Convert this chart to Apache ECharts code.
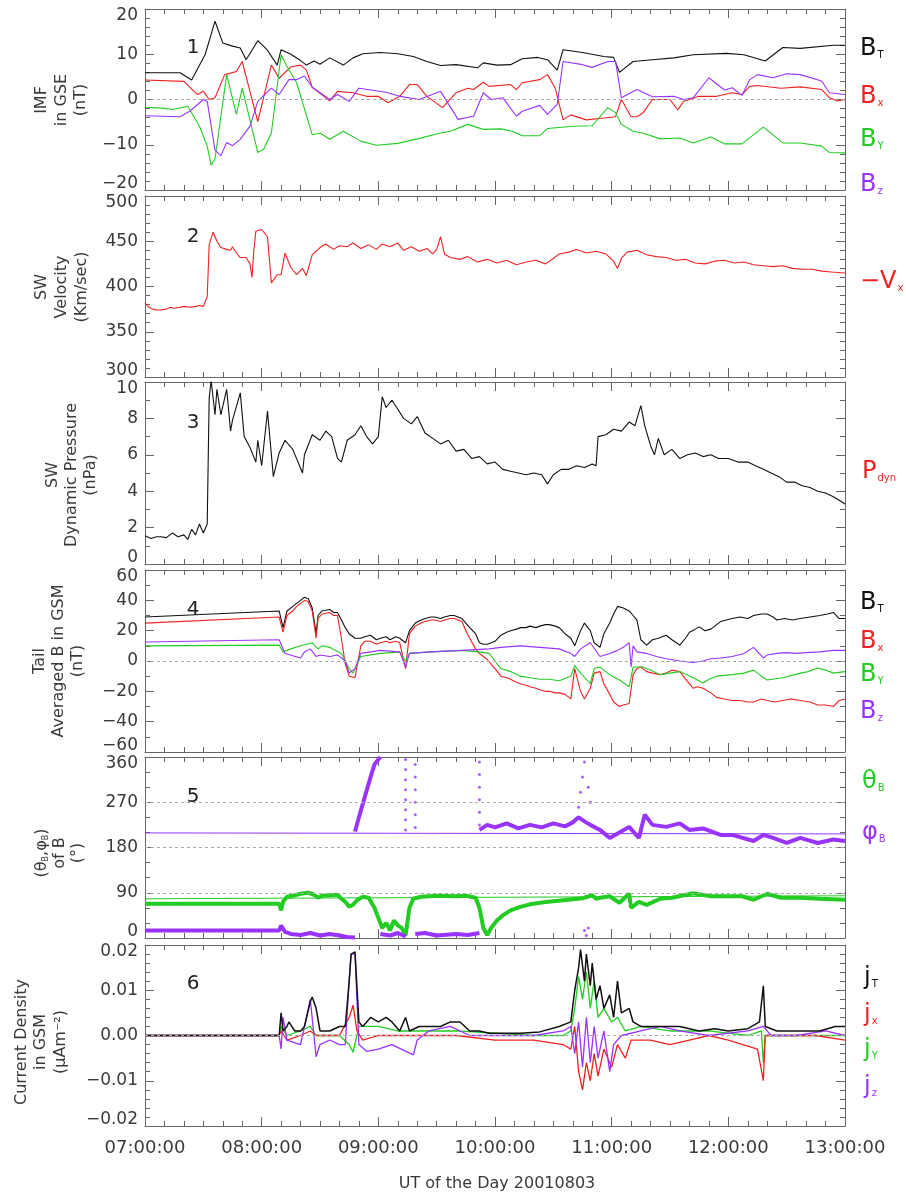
<!DOCTYPE html>
<html><head><meta charset="utf-8">
<script src="https://cdn.jsdelivr.net/npm/echarts@6/dist/echarts.min.js"></script>
<style>html,body{margin:0;padding:0;background:#fff}#c{width:906px;height:1201px}</style>
</head><body><div id="c"></div>
<script>
// ---------- tick labels ----------
const xTickLabels = ['07:00:00','08:00:00','09:00:00','10:00:00','11:00:00','12:00:00','13:00:00'];
// time = minutes after 07:00 UT

// ---------- Panel 1 : IMF in GSE (nT) ----------
const imfBT = [[0,5.9],[18,5.9],[24,4.3],[31,10],[36,17.3],[40,12.5],[45,11.8],[49,11.4],[52,8.8],[58,13],[63,10.9],[68,7.6],[70,11],[75,10],[80,8.6],[83,7.6],[87,8.5],[90,7.8],[95,9.2],[102,7.6],[107,9.2],[112,10.1],[121,10.4],[130,10.1],[138,9.5],[145,8.4],[152,7.5],[160,7.7],[171,7.0],[174,8.1],[181,7.6],[188,7.7],[194,9],[202,9.3],[207,8.8],[212,6.5],[215,11],[225,10.4],[236,9.5],[241,9.3],[244,6.0],[251,8.4],[261,8.8],[272,9.2],[282,9.9],[299,10.2],[308,9.9],[319,8.5],[328,11.5],[337,11.3],[354,12],[360,12]];
const imfBx = [[0,4.3],[20,4.0],[27,1.1],[30,1.8],[33,0],[36,0.4],[41,5.5],[47,6.2],[50,8.4],[58,-4.9],[65,7.6],[69,4.7],[75,7.2],[80,7.6],[83,6.5],[86,2.7],[95,-0.3],[99,1.8],[107,1.5],[114,0.7],[120,0.7],[125,-0.7],[131,0.7],[136,3.3],[140,3.3],[145,0.7],[153,-1.8],[160,1.5],[166,2.5],[169,2.2],[174,3.8],[177,2.9],[188,3.3],[191,2.2],[194,3.7],[203,4.4],[207,5.5],[211,2.5],[215,-4.5],[219,-3.4],[227,-4.5],[236,-4.1],[242,-3.8],[245,0],[250,-3.8],[253,-3.8],[256,-3],[261,0],[270,0],[274,-2.3],[277,-0.4],[285,0.7],[294,0.7],[302,1.5],[307,1.1],[311,2.9],[315,3.1],[327,2.5],[337,2.8],[348,2.2],[352,0.4],[356,-0.3],[360,0]];
const imfBy = [[0,-1.7],[9,-1.9],[14,-2.2],[22,-1.5],[28,-5.9],[32,-10.3],[34,-14.5],[36,-13.1],[42,5.5],[47,-3.3],[50,2.5],[58,-11.7],[61,-11.0],[65,-7.4],[70,9.9],[73,7.3],[78,3.7],[86,-7.8],[90,-7.4],[95,-8.8],[102,-7.0],[111,-9.2],[119,-10.1],[130,-9.7],[140,-8.7],[152,-7.4],[157,-7.0],[166,-5.5],[174,-6.6],[183,-6.5],[189,-7.0],[194,-8.0],[203,-8.0],[207,-6.4],[220,-5.9],[230,-5.8],[238,-1.8],[242,-2.9],[245,-5.5],[251,-7.0],[256,-7.4],[265,-8.7],[275,-8.5],[282,-9.6],[291,-8.3],[298,-9.8],[307,-9.8],[318,-6.1],[328,-9.6],[337,-9.6],[348,-10.3],[352,-11.7],[360,-11.8]];
const imfBz = [[0,-3.6],[18,-3.8],[23,-2.6],[30,0],[32,-0.4],[36,-11.2],[39,-12.4],[42,-9.5],[45,-10.2],[49,-8.8],[54,-5.9],[58,-0.4],[65,2.5],[69,1.1],[74,4.4],[78,4.4],[82,5.2],[86,2.7],[95,0],[99,1.1],[105,-0.4],[110,2.5],[124,1.6],[131,0.7],[141,0],[152,1.8],[161,-4.4],[169,-3.7],[174,1.5],[178,0],[184,0.4],[191,-3.7],[194,-2.6],[203,-1.3],[207,-3.3],[212,-1.1],[215,8.4],[225,7.7],[230,7.1],[238,8.4],[242,8.4],[245,0.4],[253,2.2],[261,0.6],[272,0.7],[277,0],[282,0.4],[290,4.8],[298,2.1],[302,2.6],[307,0.9],[311,4.4],[315,5.5],[323,4.8],[330,5.7],[337,5.5],[348,4.1],[352,1.5],[360,1.1]];

// ---------- Panel 2 : SW velocity -Vx (km/s) ----------
const swVel = [[0,382],[2,377],[4,375],[6,374],[8,374],[11,375],[13,377],[15,376],[18,377],[20,378],[23,377],[26,378],[28,379],[30,378],[31,377],[32,389],[33,446],[35,460],[37,450],[39,443],[42,441],[44,440],[45,444],[47,437],[49,432],[52,432],[54,425],[55,410],[56,440],[57,461],[60,463],[61,465],[63,455],[65,404],[68,413],[70,413],[72,437],[75,421],[78,413],[81,420],[83,412],[86,435],[90,443],[93,447],[97,441],[100,445],[104,444],[107,448],[111,442],[115,446],[119,441],[122,447],[126,444],[130,448],[133,440],[137,444],[141,439],[145,442],[148,436],[150,441],[152,455],[154,436],[157,432],[162,430],[166,433],[171,427],[176,430],[181,426],[186,429],[191,424],[196,427],[201,429],[206,425],[210,431],[213,436],[218,438],[222,441],[227,437],[232,439],[237,436],[241,428],[243,420],[245,431],[248,438],[253,440],[258,435],[263,433],[268,432],[273,429],[278,430],[283,426],[288,425],[293,428],[298,429],[303,426],[308,427],[313,424],[318,423],[323,422],[328,423],[333,420],[338,419],[343,419],[348,417],[353,416],[360,415]];

// ---------- Panel 3 : SW dynamic pressure (nPa) ----------
const swPdyn = [[0,1.55],[3,1.4],[6,1.5],[8,1.5],[11,1.45],[14,1.7],[17,1.5],[20,1.6],[22,1.35],[24,1.9],[26,1.6],[28,2.2],[30,1.7],[32,2.2],[33,9.1],[34,10.1],[36,8.2],[37,9.6],[39,8.2],[42,9.6],[44,7.3],[45,7.9],[49,9.4],[51,7.0],[54,6.4],[57,5.6],[58,6.8],[60,5.4],[63,8.4],[66,4.8],[69,6.1],[72,6.8],[76,6.3],[81,5.0],[82,6.0],[86,7.1],[90,6.8],[93,7.3],[96,7.0],[99,5.8],[101,5.6],[104,6.8],[108,7.1],[111,7.6],[114,7.0],[117,6.6],[120,7.0],[122,9.2],[124,8.6],[127,9.0],[130,8.5],[133,8.0],[137,7.7],[140,8.1],[144,7.2],[148,6.9],[152,6.6],[156,6.8],[160,6.2],[164,6.3],[168,5.8],[172,5.9],[176,5.5],[180,5.6],[184,5.2],[188,5.1],[192,5.0],[196,4.9],[200,5.0],[204,4.9],[207,4.4],[210,4.9],[214,5.2],[218,5.2],[222,5.4],[226,5.3],[230,5.5],[232,5.4],[233,7.0],[237,7.1],[241,7.4],[245,7.3],[249,7.8],[252,7.6],[255,8.7],[257,7.6],[260,6.5],[262,6.0],[264,6.9],[267,6.0],[271,6.3],[275,5.8],[279,6.0],[283,6.1],[287,5.9],[291,6.0],[295,5.8],[300,5.8],[305,5.6],[310,5.6],[314,5.4],[318,5.2],[322,5.0],[326,4.8],[330,4.5],[334,4.5],[338,4.3],[342,4.2],[346,4.0],[350,3.9],[354,3.7],[357,3.5],[360,3.3]];

// ---------- Panel 4 : tail averaged B in GSM (nT) ----------
const tailBT = [[0,29],[69,33],[71,22],[73,33],[76,36],[78,38],[80,40],[82,42],[84,41],[86,35],[88,18],[89,30],[91,33],[95,34],[97,32],[99,32],[101,27],[103,22],[105,18],[108,15],[111,15],[113,16],[116,17],[119,14],[121,15],[124,16],[126,14],[129,16],[131,15],[134,12],[136,20],[139,25],[142,27],[144,28],[147,29],[149,29],[152,28],[154,29],[157,30],[159,30],[161,29],[163,28],[165,25],[167,22],[170,18],[172,12],[174,11],[176,11],[177,10],[180,13],[183,17],[186,19],[188,20],[191,21],[193,22],[196,22],[198,23],[201,22],[203,23],[206,24],[208,24],[211,23],[213,22],[216,18],[219,15],[221,10],[224,20],[226,25],[229,20],[231,12],[234,9],[236,18],[239,25],[241,31],[243,36],[246,35],[249,33],[251,30],[253,27],[255,14],[258,10.5],[261,14],[264,15],[268,17],[271,14],[275,10.5],[278,15],[280,19],[283,21],[285,22.5],[288,20],[291,21],[294,24],[296,26],[299,27],[302,28],[306,29],[310,28],[313,30],[317,31],[320,31],[323,29],[325,27],[329,28],[333,27],[337,28],[342,29],[347,30],[351,31],[354,32],[357,28],[360,28]];
const tailBx = [[0,25],[69,29],[71,19],[73,30],[76,33],[78,36],[80,38],[82,40],[84,39],[86,33],[88,15],[89,28],[91,31],[95,32],[97,30],[99,30],[101,15],[103,-2],[105,-10],[108,-11],[111,10],[113,13],[116,13],[119,11],[121,12],[124,13],[126,12],[129,13],[131,12],[134,-5],[136,18],[139,23],[142,25],[144,26],[147,27],[149,27],[152,26],[154,27],[157,28],[159,28],[161,27],[163,26],[165,20],[167,15],[170,8],[172,5],[174,3],[176,1],[178,-2],[180,-5],[183,-10],[186,-11],[188,-12],[191,-14],[193,-15],[196,-16],[198,-17],[201,-18],[203,-19],[206,-20],[208,-20],[211,-21],[213,-21],[216,-22],[219,-25],[221,-5],[224,-20],[226,-25],[229,-18],[231,-8],[234,-7],[236,-15],[239,-22],[241,-27],[244,-30],[246,-29],[249,-28],[251,-9],[253,-5],[255,-4],[258,-7],[261,-8],[265,-9],[268,-8],[271,-6],[275,-7],[278,-12],[282,-18],[284,-17],[287,-18],[291,-21],[294,-24],[298,-25],[302,-26],[306,-26],[310,-27],[313,-27],[317,-25],[320,-26],[324,-27],[328,-26],[332,-25],[337,-26],[342,-27],[346,-29],[350,-29],[354,-30],[357,-26],[360,-25]];
const tailBy = [[0,10],[69,10.5],[71,6],[75,8],[80,10],[86,12],[89,8],[91,10],[95,9],[101,5],[105,-5],[107,-8],[111,3],[121,5],[131,6],[134,0],[136,5],[147,6],[163,7],[172,6],[177,5],[180,0],[183,-5],[188,-7],[193,-10],[198,-11],[203,-12],[208,-12],[213,-13],[219,-10],[221,-3],[224,-8],[229,-15],[231,-5],[234,-4],[239,-9],[244,-12.5],[249,-17],[251,-4],[256,-4],[260,-6],[265,-9],[270,-8],[275,-7],[282,-11],[287,-14.5],[290,-12],[294,-10],[302,-9],[308,-8],[313,-6],[317,-10],[320,-12.5],[328,-11],[337,-8],[341,-7],[346,-4.6],[350,-6],[354,-8],[360,-7]];
const tailBz = [[0,12.5],[69,14],[72,5],[80,2],[82,6],[85,8],[88,3],[90,4],[95,3],[99,4],[103,0],[105,-8],[108,-5],[111,5],[121,7],[131,6],[134,-4],[136,5],[147,6],[163,7],[177,8],[183,9],[193,10],[203,9],[213,8],[219,5],[221,3],[224,8],[229,12],[234,3],[239,5],[243,7],[246,9],[249,12],[250,-4],[251,10],[253,6],[258,5],[263,3],[268,1.5],[275,0],[282,-1],[287,0],[291,1.5],[296,2],[302,3],[308,5],[313,9],[318,2],[320,4],[325,5],[330,5.5],[335,5],[340,5.5],[347,6],[354,7],[360,7]];

// ---------- Panel 5 : (thetaB, phiB) of B (deg) ----------
const thetaB = [[0,68],[69,68],[70,55],[71,72],[73,82],[76,84],[80,88],[84,90],[87,86],[89,80],[91,84],[95,85],[99,86],[101,78],[103,72],[105,62],[107,66],[109,75],[112,82],[115,80],[118,60],[120,40],[122,20],[124,30],[126,15],[128,35],[130,25],[132,20],[134,5],[136,60],[138,78],[142,82],[150,84],[160,83],[165,84],[170,80],[172,60],[174,20],[176,6],[178,20],[181,35],[184,45],[188,55],[193,62],[198,67],[205,71],[215,75],[225,79],[230,85],[232,78],[234,80],[239,83],[244,70],[249,88],[250,60],[254,72],[258,66],[265,78],[271,80],[282,89],[291,83],[299,83],[307,83],[313,76],[320,88],[327,80],[337,80],[347,78],[360,76]];
const thetaRef = [[0,78],[360,84]];
const phiB = [[0,15],[69,15],[70,25],[72,12],[75,8],[80,6],[85,10],[90,5],[95,8],[100,5],[104,2],[108,1],null,[108,212],[110,240],[113,280],[116,320],[118,345],[121,360],null,[121,8],[126,5],[130,10],[134,3],null,[139,8],[144,10],[150,5],[160,8],[166,6],[172,10],null,[172,215],[176,225],[180,220],[186,228],[192,218],[198,225],[204,220],[210,228],[216,222],[220,230],[223,240],[226,232],[229,225],[234,215],[239,199],[244,210],[249,221],[254,199],[257,245],[261,225],[268,221],[275,228],[280,215],[287,218],[296,205],[302,205],[313,193],[318,205],[323,199],[330,189],[337,199],[346,189],[354,196],[360,193]];
const phiRef = [[0,209],[360,207]];
const phiDots = [[134,215],[134,235],[134,255],[134,275],[134,295],[134,315],[134,335],[134,355],[139,220],[139,245],[139,270],[139,295],[139,320],[139,345],[172,225],[172,250],[172,275],[172,300],[172,325],[172,350],[223,260],[224,290],[225,320],[226,350],[228,300],[229,270],[226,15],[227,5],[228,20]];

// ---------- Panel 6 : current density in GSM (uA m^-2) ----------
const jT = [[0,0],[69,0],[70,0.005],[71,0.001],[73,0.002],[74,0.003],[77,0.001],[80,0.001],[82,0.002],[85,0.0075],[86,0.0085],[88,0.006],[90,0.001],[95,0.001],[100,0.002],[103,0.002],[105,0.012],[106,0.018],[108,0.0185],[110,0.003],[112,0.002],[116,0.004],[120,0.003],[124,0.004],[127,0.003],[131,0.001],[134,0.004],[136,0.001],[141,0.002],[146,0.002],[152,0.002],[157,0.003],[162,0.003],[167,0.001],[172,0.001],[177,0.0005],[183,0.0005],[193,0.0005],[203,0.0008],[213,0.002],[219,0.003],[221,0.01],[223,0.015],[224,0.019],[226,0.012],[227,0.018],[229,0.011],[230,0.016],[232,0.008],[234,0.011],[236,0.006],[239,0.009],[241,0.004],[243,0.012],[245,0.005],[249,0.006],[251,0.003],[255,0.002],[265,0.002],[275,0.002],[285,0.001],[293,0.0015],[300,0.001],[310,0.0015],[316,0.003],[318,0.011],[319,0.002],[325,0.001],[337,0.001],[347,0.001],[355,0.002],[360,0.002]];
const jx = [[0,0],[69,0],[70,0.001],[73,-0.001],[80,0],[85,0.001],[88,0],[100,0],[105,0.004],[107,0.0067],[109,0.001],[112,-0.001],[120,0],[130,0],[140,0],[160,0],[180,-0.001],[200,-0.001],[215,-0.002],[219,-0.003],[221,0.002],[223,-0.008],[225,-0.012],[227,-0.006],[229,-0.010],[231,-0.004],[233,-0.009],[236,-0.003],[240,-0.007],[243,-0.002],[247,-0.005],[250,-0.001],[260,-0.001],[270,-0.002],[280,-0.001],[290,0],[300,-0.001],[315,-0.003],[318,-0.010],[319,0],[330,0],[345,0],[360,-0.001]];
const jy = [[0,0],[69,0],[70,0.002],[73,0],[80,0.001],[85,0.002],[88,0],[100,0],[105,-0.002],[107,-0.0037],[110,0.002],[120,0.002],[130,0.001],[140,0.001],[160,0.001],[200,0],[215,0],[219,0.001],[221,0.006],[223,0.013],[225,0.008],[227,0.014],[229,0.006],[231,0.012],[233,0.004],[236,0.006],[240,0.003],[243,0.004],[247,0.001],[255,0.002],[270,0.001],[290,0.001],[310,0],[317,0.001],[318,-0.006],[319,0],[330,0],[345,0],[360,0]];
const jz = [[0,0],[69,0],[70,-0.003],[71,0.004],[73,-0.001],[80,-0.002],[85,0.008],[86,0.008],[88,-0.0047],[90,-0.002],[95,-0.001],[100,-0.002],[103,-0.002],[105,0.012],[106,0.018],[108,0.018],[110,-0.002],[114,-0.0035],[120,-0.003],[127,-0.002],[138,-0.0043],[140,-0.001],[146,0.001],[157,0.002],[167,0],[180,0],[200,0],[215,0.001],[219,0.002],[221,-0.004],[223,0.003],[225,-0.007],[227,0.004],[229,-0.006],[231,0.002],[233,-0.005],[236,0.001],[239,-0.008],[241,-0.002],[245,0],[255,0.001],[265,0.002],[275,0.001],[290,0],[310,0.001],[318,0.002],[322,0],[335,0],[350,0.001],[360,0]];

// ---------- colours ----------
const C = {k:'#111111', r:'#ee2222', g:'#22cc22', p:'#9933ff'};
const FONT = 'DejaVu Sans, Verdana, sans-serif';
const TXT = '#3a3a3a';
const AX = '#666666';

const minus = s => s.replace('-','\u2212');
const grids = [
  {top:9,  height:181, min:-20, max:20, interval:10, minor:5, zero:[0], fmt:v=>minus(String(v))},
  {top:196,height:181, min:300, max:500, interval:50, minor:5, zero:[], fmt:v=>String(v)},
  {top:382,height:182, min:0, max:10, interval:2, minor:2, zero:[], fmt:v=>String(v)},
  {top:570,height:182, min:-60, max:60, interval:20, minor:2, zero:[0], fmt:v=>minus(String(v))},
  {top:757,height:181, min:0, max:360, interval:90, minor:3, zero:[90,180,270], fmt:v=>String(v)},
  {top:945,height:181, min:-0.02, max:0.02, interval:0.01, minor:5, zero:[0], fmt:v=>minus(v.toFixed(2))}
];
const LBL = {fontSize:17, fontFamily:FONT, color:TXT};

const option = {backgroundColor:'#fff', animation:false, grid:[], xAxis:[], yAxis:[], series:[], graphic:[]};
grids.forEach((g,i)=>{
  option.grid.push({left:145, width:700, top:g.top, height:g.height});
  const last = i===5;
  ['bottom','top'].forEach(pos=>{
    option.xAxis.push({type:'value', gridIndex:i, position:pos, min:0, max:360, interval:60,
      axisLine:{show:true, onZero:false, lineStyle:{color:AX, width:1}},
      axisTick:{show:true, inside:true, length:9, lineStyle:{color:AX}},
      minorTick:{show:true, splitNumber:6, length:5, lineStyle:{color:AX}},
      splitLine:{show:false},
      axisLabel:{show: last && pos==='bottom', margin:13, color:TXT, fontSize:18, fontFamily:FONT,
        formatter:v=>xTickLabels[Math.round(v/60)]}
    });
  });
  ['left','right'].forEach(pos=>{
    option.yAxis.push({type:'value', gridIndex:i, position:pos, min:g.min, max:g.max, interval:g.interval,
      axisLine:{show:true, onZero:false, lineStyle:{color:AX, width:1}},
      axisTick:{show:true, inside:true, length:9, lineStyle:{color:AX}},
      minorTick:{show:true, splitNumber:g.minor, length:5, lineStyle:{color:AX}},
      splitLine:{show:false},
      axisLabel:{show: pos==='left', margin:7, color:TXT, fontSize:17, fontFamily:FONT,
        formatter:v=>{
          const s = g.fmt(v);
          if (Math.abs(v-g.max) < 1e-9) return '{t|'+s+'}';
          if (Math.abs(v-g.min) < 1e-9) return '{b|'+s+'}';
          return s;
        },
        rich:{t:Object.assign({padding:[14,0,0,0]},LBL), b:Object.assign({padding:[0,0,12,0]},LBL)}}
    });
  });
  option.series.push({type:'line', xAxisIndex:2*i, yAxisIndex:2*i, data:[], silent:true,
    markLine:{silent:true, symbol:'none', label:{show:false}, animation:false,
      lineStyle:{color:'#aaaaaa', type:[3,3], width:1},
      data:g.zero.map(z=>({yAxis:z}))}});
});

function line(gi, data, color, w, extra){
  option.series.push(Object.assign({type:'line', xAxisIndex:2*gi, yAxisIndex:2*gi, data:data,
    symbol:'none', showSymbol:false, connectNulls:false, silent:true,
    lineStyle:{color:color, width:w||1.1}, itemStyle:{color:color}, z:3}, extra||{}));
}
line(0, imfBT, C.k); line(0, imfBx, C.r); line(0, imfBy, C.g); line(0, imfBz, C.p);
line(1, swVel, C.r);
line(2, swPdyn, C.k);
line(3, tailBT, C.k); line(3, tailBx, C.r); line(3, tailBy, C.g); line(3, tailBz, C.p);
line(4, thetaRef, C.g, 1); line(4, phiRef, C.p, 1);
line(4, thetaB, C.g, 4); line(4, phiB, C.p, 4);
option.series.push({type:'scatter', xAxisIndex:8, yAxisIndex:8, data:phiDots, symbolSize:3, itemStyle:{color:C.p}, silent:true});
line(5, jy, C.g, 1.3); line(5, jx, C.r, 1.3); line(5, jz, C.p, 1.3); line(5, jT, C.k, 1.5);

// ---------- text ----------
function vtext(x, y, t, fs, rich){
  option.graphic.push({type:'text', x:x, y:y, rotation:Math.PI/2,
    style:{text:t, fill:TXT, fontSize:fs, fontFamily:FONT, align:'center', verticalAlign:'middle', textAlign:'center', textVerticalAlign:'middle', rich:rich}});
}
function htext(x, y, t, fs, color, align){
  option.graphic.push({type:'text', x:x, y:y,
    style:{text:t, fill:color||TXT, fontSize:fs, fontFamily:FONT, align:align||'center', verticalAlign:'middle', textAlign:align||'center', textVerticalAlign:'middle'}});
}
const FS = 16;
vtext(42,100,'IMF',FS); vtext(62,100,'in GSE',FS); vtext(81,100,'(nT)',FS);
vtext(42,287,'SW',FS); vtext(62,287,'Velocity',FS); vtext(82,287,'(Km/sec)',FS);
vtext(53,475,'SW',FS); vtext(72,475,'Dynamic Pressure',FS); vtext(91,475,'(nPa)',FS);
vtext(40,661,'Tail',FS); vtext(59,661,'Averaged B in GSM',FS); vtext(78,661,'(nT)',FS);
const subR = {n:{fontSize:FS, fontFamily:FONT, fill:TXT}, s:{fontSize:8, fontFamily:FONT, fill:TXT, verticalAlign:'bottom'}};
vtext(42,853,'{n|(\u03b8}{s|B}{n|,\u03c6}{s|B}{n|)}',FS,subR); vtext(60,853,'of B',FS); vtext(78,853,'(\u00b0)',FS);
vtext(22,1042,'Current Density',FS); vtext(41,1042,'in GSM',FS); vtext(61,1042,'(\u03bcAm\u207b\u00b2)',FS);

['1','2','3','4','5','6'].forEach((n,i)=>htext(193,[48,237,423,610,797,984][i],n,20,'#222'));

function lab(x,y,main,sub,color,fsMain,fsSub){
  option.graphic.push({type:'text', x:x, y:y, style:{text:'{m|'+main+'}{s|'+sub+'}', textVerticalAlign:'middle', verticalAlign:'middle',
    rich:{m:{fontSize:fsMain||24, fontFamily:FONT, fill:color, verticalAlign:'bottom'}, s:{fontSize:fsSub||10, fontFamily:FONT, fill:color, verticalAlign:'bottom', padding:[0,0,1,1]}}}});
}
lab(860,49,'B','T',C.k); lab(860,97,'B','x',C.r); lab(860,140,'B','Y',C.g); lab(860,185,'B','z',C.p);
lab(860,282,'\u2212V','x',C.r);
lab(862,472,'P','dyn',C.r);
lab(860,603,'B','T',C.k); lab(860,642,'B','x',C.r); lab(860,675,'B','Y',C.g); lab(860,712,'B','z',C.p);
lab(862,782,'\u03b8','B',C.g); lab(862,833,'\u03c6','B',C.p);
lab(864,978,'j','T',C.k); lab(864,1015,'j','x',C.r); lab(864,1050,'j','Y',C.g); lab(864,1087,'j','z',C.p);

htext(497,1184,'UT of the Day 20010803',16,TXT);

const chart = echarts.init(document.getElementById('c'), null, {renderer:'canvas'});
chart.setOption(option);
</script>
</body></html>
